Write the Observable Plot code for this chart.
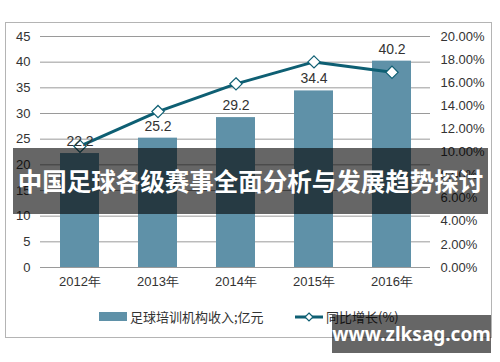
<!DOCTYPE html>
<html><head><meta charset="utf-8">
<script src="https://cdn.jsdelivr.net/npm/d3@7"></script>
<script src="https://cdn.jsdelivr.net/npm/@observablehq/plot@0.6"></script>
<style>
body{margin:0;background:#fff;font-family:"Liberation Sans",Arial,sans-serif}
#wrap{position:relative;width:500px;height:362px;overflow:hidden;background:#fff}
#frame{position:absolute;left:5px;top:22px;width:487px;height:316px;border:1px solid #b4b4b4;box-sizing:border-box}
#chart{position:absolute;left:0;top:0}
.leg{position:absolute;font-family:"Noto Sans CJK SC",sans-serif;font-size:13px;color:#333;line-height:16px}
#band{position:absolute;left:13px;top:148px;width:475px;height:66px;background:rgba(0,0,0,0.6);color:#fff;font-family:"Noto Sans CJK SC",sans-serif;font-weight:bold;font-size:24.5px;line-height:66px;text-align:center;white-space:nowrap}
#wm{position:absolute;left:332px;top:315px;width:159px;height:38px;background:rgba(0,0,0,0.6);color:#fff;font-family:"Noto Sans",sans-serif;font-weight:bold;font-size:19px;line-height:38px;text-align:center;white-space:nowrap}
</style></head>
<body>
<div id="wrap">
  <div id="frame"></div>
  <div id="chart"></div>
  <div class="leg" style="left:99px;top:312px;width:28px;height:9px;background:#5f91a8"></div>
  <div class="leg" style="left:130px;top:309px">足球培训机构收入;亿元</div>
  <svg class="leg" style="left:295px;top:310px" width="30" height="14">
    <line x1="0" y1="7" x2="28" y2="7" stroke="#0e5f73" stroke-width="3"/>
    <path d="M14,3 L18,7 L14,11 L10,7 Z" fill="#fff" stroke="#0e5f73" stroke-width="1.2"/>
  </svg>
  <div class="leg" style="left:326px;top:309px">同比增长(%)</div>
  <div id="band">中国足球各级赛事全面分析与发展趋势探讨</div>
  <div id="wm">www.zlksag.com</div>
</div>
<script>
const years = ["2012", "2013", "2014", "2015", "2016"];
const revenue = [22.2, 25.2, 29.2, 34.4, 40.2];
const growth = [10.5, 13.5, 15.9, 17.8, 16.9];
const leftTicks = [0, 5, 10, 15, 20, 25, 30, 35, 40, 45];
const rightTicks = [0, 2, 4, 6, 8, 10, 12, 14, 16, 18, 20];

const k = 45 / 20;
const data = years.map((y, i) => ({year: y, value: revenue[i], pct: growth[i]}));
const lineColor = "#0e5f73";

const chart = Plot.plot({
  width: 500,
  height: 300,
  marginTop: 36,
  marginBottom: 33,
  marginLeft: 40,
  marginRight: 70,
  style: {fontFamily: "'Liberation Sans', Arial, sans-serif", fontSize: "13px", color: "#333", background: "transparent"},
  x: {domain: years, paddingInner: 0.5, paddingOuter: 0.25, label: null},
  y: {domain: [0, 45], label: null},
  marks: [
    Plot.ruleY(leftTicks, {stroke: "#9a9a9a", strokeWidth: 1}),
    Plot.barY(data, {x: "year", y: "value", fill: "#5f91a8"}),
    Plot.axisY({ticks: leftTicks, tickSize: 0, tickPadding: 10, anchor: "left", label: null, fill: "#333"}),
    Plot.axisY({ticks: rightTicks.map(v => v * k), tickSize: 0, tickPadding: 10, anchor: "right", label: null,
      tickFormat: d => (d / k).toFixed(2) + "%", fill: "#333"}),
    Plot.axisX({tickSize: 0, tickPadding: 9, tickFormat: d => d + "年", label: null, fill: "#333"}),
    Plot.line(data, {x: "year", y: d => d.pct * k, stroke: lineColor, strokeWidth: 3}),
    Plot.dot(data, {x: "year", y: d => d.pct * k, symbol: "diamond2", r: 5.5, fill: "white", stroke: lineColor, strokeWidth: 1.2}),
    Plot.text(data, {x: "year", y: "value", text: d => d.value.toFixed(1), dy: -12, fontSize: 14, fill: "#333"})
  ]
});
document.getElementById("chart").appendChild(chart);
</script>
</body></html>
